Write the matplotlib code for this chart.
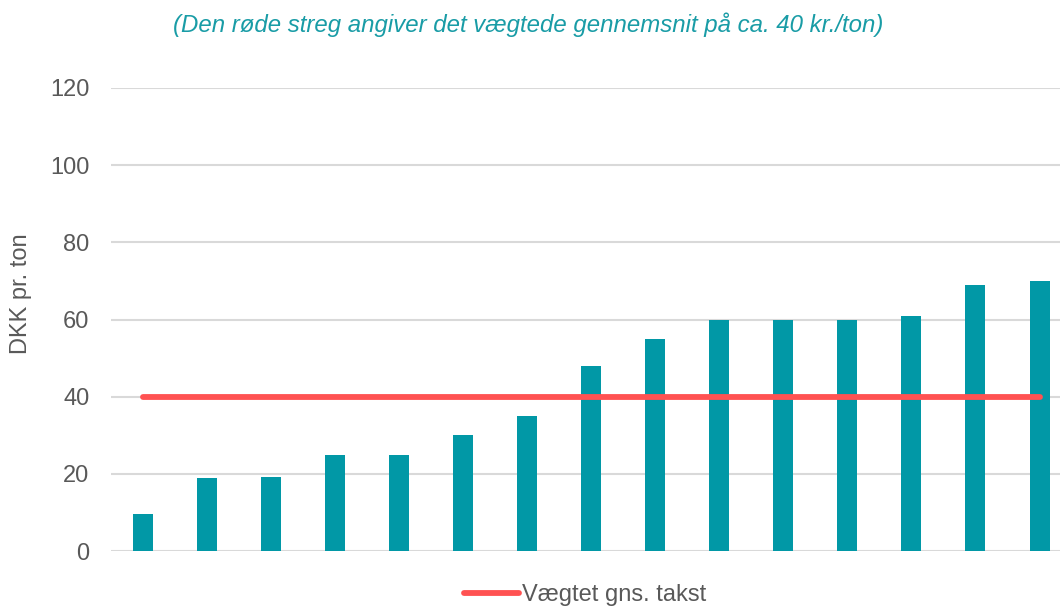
import matplotlib
matplotlib.use("Agg")
import matplotlib.pyplot as plt
import numpy as np

values = [9.7, 18.8, 19.1, 25, 25, 30, 35, 48, 55, 60, 60, 60, 61, 69, 70]
avg_value = 40
y_ticks = [0, 20, 40, 60, 80, 100, 120]
title = "(Den røde streg angiver det vægtede gennemsnit på ca. 40 kr./ton)"
ylabel = "DKK pr. ton"
legend_label = "Vægtet gns. takst"

plt.rcParams['font.family'] = ['Liberation Sans', 'DejaVu Sans']

W, H = 1060, 608
fig = plt.figure(figsize=(W / 100, H / 100), dpi=100)
ax = fig.add_axes([111 / W, (H - 551) / H, 1 - 111 / W, (551 - 88) / H])

x = np.arange(len(values))
bar_color = '#0198A6'
ax.bar(x, values, width=0.3125, color=bar_color, zorder=2)
line, = ax.plot([x[0], x[-1]], [avg_value, avg_value], color='#FF5252', lw=4.2,
                solid_capstyle='round', zorder=3)

ax.set_ylim(0, 120)
ax.set_xlim(-0.5, len(values) - 1 + 0.32)
ax.set_yticks(y_ticks)
ax.set_xticks([])
ax.yaxis.grid(True, color='#D9D9D9', lw=1.5, zorder=0)
ax.set_axisbelow(True)
for s in ax.spines.values():
    s.set_visible(False)
ax.tick_params(axis='y', length=0, pad=15.5, labelsize=17, labelcolor='#595959')

fig.text(21 / W, 1 - 294 / H, ylabel, rotation=90, ha='center', va='center',
         fontsize=17, color='#595959')
fig.text(528 / W, 1 - 25 / H, title, ha='center', va='center', fontsize=17.3,
         style='italic', color='#199CA6')

leg = fig.legend([line], [legend_label], loc='center', bbox_to_anchor=(585 / W, 1 - 595 / H),
                 frameon=False, fontsize=17, handlelength=2.35, handletextpad=0.12,
                 labelcolor='#595959', borderpad=0, borderaxespad=0)

fig.savefig('out.png', dpi=100)
